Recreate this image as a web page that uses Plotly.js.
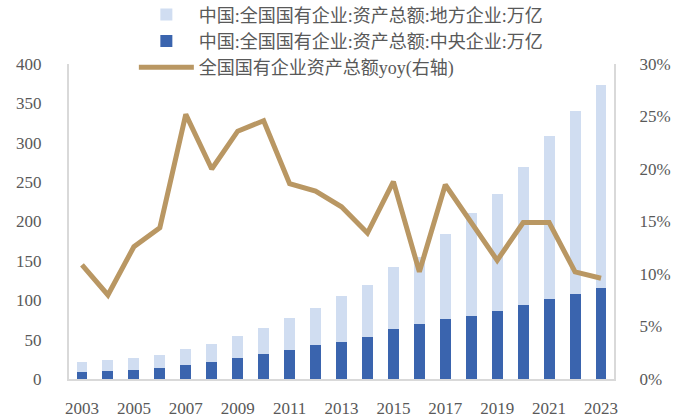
<!DOCTYPE html>
<html>
<head>
<meta charset="utf-8">
<script src="https://cdn.plot.ly/plotly-3.0.1.min.js"></script>
<style>html,body{margin:0;padding:0;background:#fff;}#chart{width:690px;height:419px;}</style>
</head>
<body>
<div id="chart"></div>
<script>
const years = ['2003','2004','2005','2006','2007','2008','2009','2010','2011','2012','2013','2014','2015','2016','2017','2018','2019','2020','2021','2022','2023'];
const centralAssets = [8.5, 9.7, 11.4, 13.5, 18.2, 22.0, 26.7, 32.0, 37.2, 42.8, 47.4, 53.8, 63.9, 69.8, 75.8, 80.4, 86.3, 93.5, 101.2, 108.4, 115.6];
const totalAssets = [22.0, 24.0, 26.7, 30.5, 37.7, 44.4, 54.6, 64.8, 77.5, 90.6, 105.2, 119.8, 142.2, 155.0, 184.5, 211.0, 234.5, 269.0, 309.0, 340.5, 373.5];
const localAssets = totalAssets.map((t, i) => +(t - centralAssets[i]).toFixed(1));
const yoy = [0.1086, 0.080, 0.126, 0.144, 0.252, 0.200, 0.236, 0.246, 0.186, 0.179, 0.164, 0.139, 0.188, 0.102, 0.185, 0.148, 0.113, 0.149, 0.149, 0.102, 0.096];
const yearTicks = years.filter((y, i) => i % 2 === 0);

const names = ['中国:全国国有企业:资产总额:地方企业:万亿', '中国:全国国有企业:资产总额:中央企业:万亿', '全国国有企业资产总额yoy(右轴)'];

const font = 'Liberation Serif, Noto Sans CJK SC, serif';
const grey = '#595959';

const traces = [
  {type:'bar', x: years, y: centralAssets, name: names[1], marker:{color:'#3a64ae'}, legendrank: 2, hoverinfo:'y'},
  {type:'bar', x: years, y: localAssets, name: names[0], marker:{color:'#d0ddf1'}, legendrank: 1, hoverinfo:'y'},
  {type:'scatter', mode:'lines', x: years, y: yoy, yaxis:'y2', name: names[2], line:{color:'#b99763', width:5, shape:'linear'}, legendrank: 3}
];

const layout = {
  width: 690, height: 419,
  margin: {l: 69, r: 76, t: 64, b: 40, autoexpand: false},
  paper_bgcolor: '#fff', plot_bgcolor: '#fff',
  barmode: 'stack', bargap: 0.58,
  font: {family: font, color: grey, size: 17},
  showlegend: true,
  legend: {traceorder:'normal', orientation:'v', x: 0.119, xanchor:'left', y: 1.215, yanchor:'top',
           font:{size:18, color: grey, family: font}, tracegroupgap: 0, itemwidth: 55, bgcolor:'rgba(0,0,0,0)'},
  xaxis: {type:'category', tickvals: yearTicks, ticktext: yearTicks, showgrid:false, zeroline:false,
          showline:true, linecolor:'#d9d9d9', linewidth:2, ticks:'', ticklabelstandoff: 13,
          tickfont:{size:17, color: grey, family: font}},
  yaxis: {range:[0, 400], dtick: 50, showgrid:false, zeroline:false, showline:true, linecolor:'#d9d9d9', linewidth:2,
          ticks:'', ticklabelstandoff: 22, tickfont:{size:17, color: grey, family: font}},
  yaxis2: {range:[0, 0.30], dtick: 0.05, tickformat:'.0%', overlaying:'y', side:'right', showgrid:false, zeroline:false,
           showline:true, linecolor:'#d9d9d9', linewidth:2, ticks:'', ticklabelstandoff: 20,
           tickfont:{size:17, color: grey, family: font}}
};

Plotly.newPlot('chart', traces, layout, {displayModeBar:false, staticPlot:true});
</script>
</body>
</html>
